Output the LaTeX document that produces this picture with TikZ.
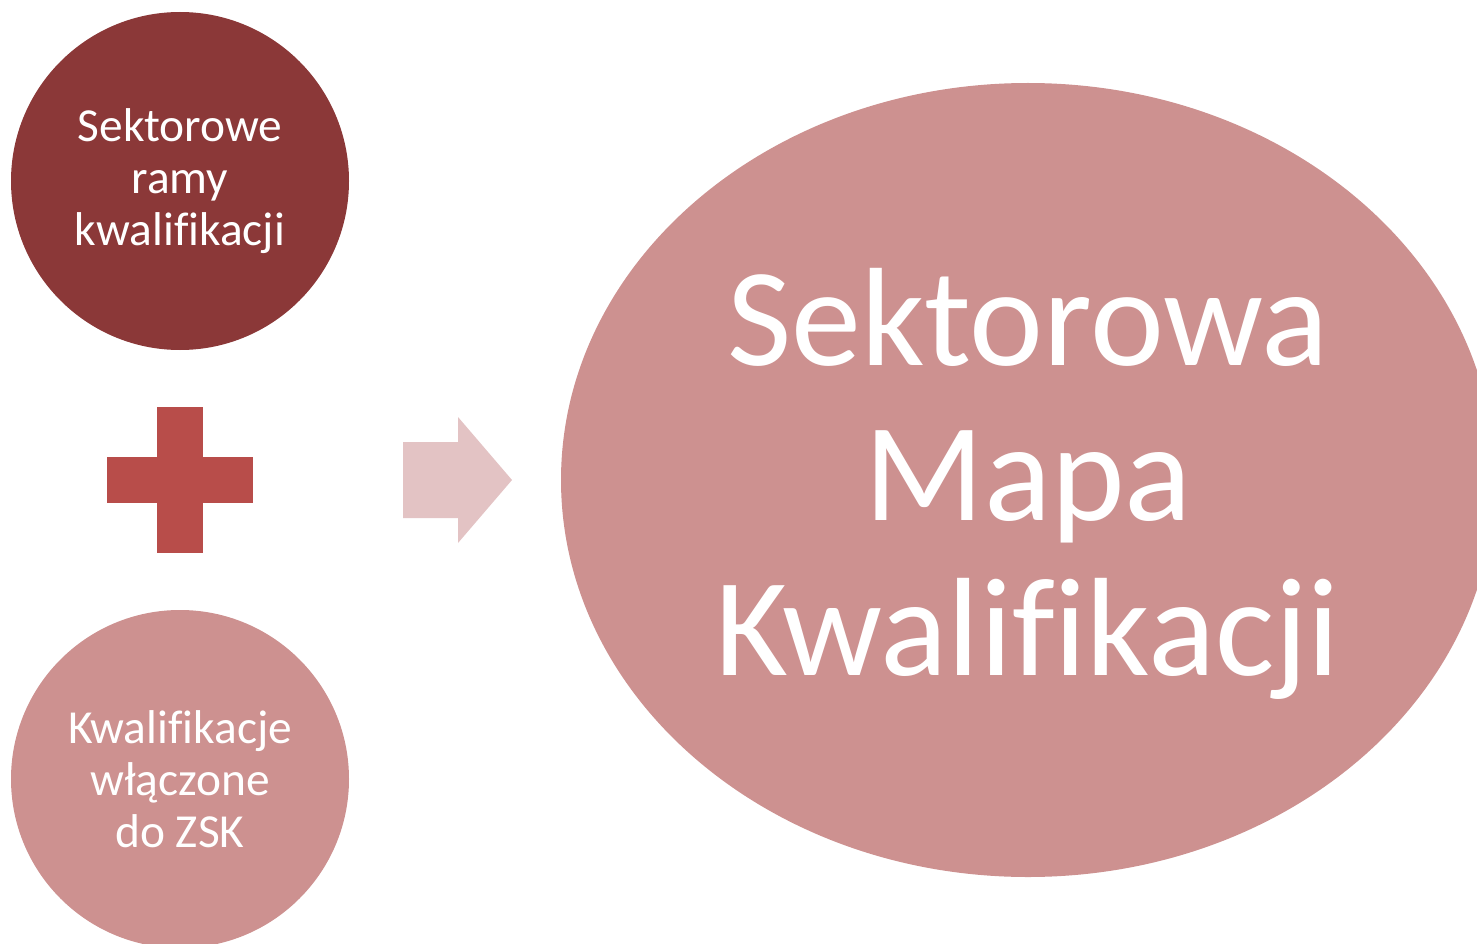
\documentclass[tikz,border=0pt]{standalone}
\usepackage{fontspec}
\setmainfont{Carlito}[Ligatures=NoCommon]
\usetikzlibrary{shapes.geometric}
\definecolor{darkred}{RGB}{139,56,56}
\definecolor{rosefill}{RGB}{205,145,144}
\definecolor{plusred}{RGB}{184,77,74}
\definecolor{arrowpink}{RGB}{227,195,196}
\tikzset{
  bubble/.style={circle, minimum size=338pt, inner sep=0pt, text=white, align=center,
    font=\fontsize{47.4}{52}\selectfont},
  bigoval/.style={ellipse, minimum width=934pt, minimum height=794pt, inner sep=0pt,
    fill=rosefill},
  bigtext/.style={text=white, align=center, inner sep=0pt,
    font=\fontsize{140}{155}\selectfont},
}
\begin{document}
\begin{tikzpicture}[x=1pt,y=-1pt]
  \useasboundingbox (0,0) rectangle (1477,944);
  \clip (0,0) rectangle (1477,944);
  % two source circles
  \node[bubble, fill=darkred] (ramy) at (180,181) {Sektorowe\\ramy\\kwalifikacji};
  \node[bubble, fill=rosefill] (zsk) at (180,779) {Kwalifikacje\\włączone\\do ZSK};
  % plus sign between them
  \fill[plusred] (107,457) rectangle (253,503);
  \fill[plusred] (157,407) rectangle (203,553);
  % block arrow towards the result
  \fill[arrowpink] (403,442) -- (458,442) -- (458,417) -- (512,480) -- (458,543)
    -- (458,518) -- (403,518) -- cycle;
  % result oval and its caption
  \node[bigoval] (mapa) at (1028,480) {};
  \node[bigtext] (mapatext) at ([yshift=-4pt]mapa.center) {Sektorowa\\Mapa\\Kwalifikacji};
\end{tikzpicture}
\end{document}
